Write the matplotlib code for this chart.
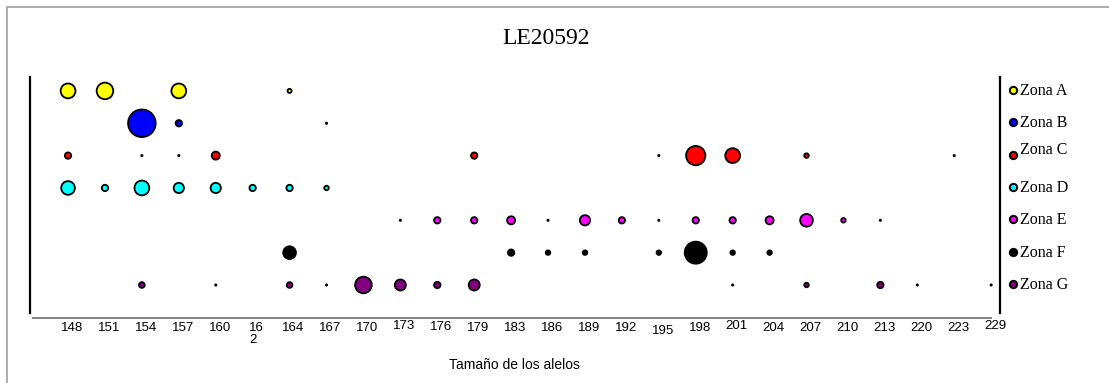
import matplotlib
matplotlib.use('Agg')
import matplotlib.pyplot as plt
import matplotlib.transforms as mtransforms
from matplotlib.patches import Rectangle
import numpy as np

# allele sizes (category labels on the x axis)
alelos = ['148', '151', '154', '157', '160', '162', '164', '167', '170', '173',
          '176', '179', '183', '186', '189', '192', '195', '198', '201', '204',
          '207', '210', '213', '220', '223', '229']

zonas = ['Zona A', 'Zona B', 'Zona C', 'Zona D', 'Zona E', 'Zona F', 'Zona G']
colores = ['#FFFF00', '#0000FF', '#FF0000', '#00FFFF', '#FF00FF', '#000000', '#800080']

# allele frequency (%) per zone, one value per allele, 0 = absent
zona_a = [27, 34, 0, 27, 0, 0, 2, 0, 0, 0, 0, 0, 0, 0, 0, 0, 0, 0, 0, 0, 0, 0, 0, 0, 0, 0]
zona_b = [0, 0, 94, 5, 0, 0, 0, 0.2, 0, 0, 0, 0, 0, 0, 0, 0, 0, 0, 0, 0, 0, 0, 0, 0, 0, 0]
zona_c = [5, 0, 0.2, 0.2, 8, 0, 0, 0, 0, 0, 0, 5, 0, 0, 0, 0, 0.2, 46, 27, 0, 2.5, 0, 0, 0, 0.2, 0]
zona_d = [23, 5, 27, 13, 13, 5, 5, 2.5, 0, 0, 0, 0, 0, 0, 0, 0, 0, 0, 0, 0, 0, 0, 0, 0, 0, 0]
zona_e = [0, 0, 0, 0, 0, 0, 0, 0, 0, 0.2, 5, 5, 8, 0.2, 13, 5, 0.2, 5, 5, 8, 20, 2.5, 0.2, 0, 0, 0]
zona_f = [0, 0, 0, 0, 0, 0, 20, 0, 0, 0, 0, 0, 5, 2.5, 2.5, 0, 2.5, 60, 2.5, 2.5, 0, 0, 0, 0, 0, 0]
zona_g = [0, 0, 4, 0, 0.2, 0, 4, 0.2, 34, 15, 5, 15, 0, 0, 0, 0, 0, 0, 0.2, 0, 2.5, 0, 5, 0.2, 0, 0.2]

frecuencias = [zona_a, zona_b, zona_c, zona_d, zona_e, zona_f, zona_g]

W, H = 1109, 383
fig = plt.figure(figsize=(W / 100, H / 100), dpi=100)
fig.patch.set_facecolor('white')

# light grey chart frame (only top and left edge fall inside the image)
fig.patches.append(Rectangle((7 / W, -0.2), 1.2, 1 - 7 / H + 0.2, transform=fig.transFigure,
                             fill=False, edgecolor='#A6A6A6', linewidth=1.3))

ax = fig.add_axes([30 / W, 1 - 318 / H, 970 / W, 241 / H])
ax.set_xlim(-1.03, 25.24)
ax.set_ylim(7.02, -0.43)
for s in ax.spines.values():
    s.set_visible(False)
ax.set_xticks([])
ax.set_yticks([])

x = np.arange(len(alelos))
for fila, (zona, col, frec) in enumerate(zip(zonas, colores, frecuencias)):
    frec = np.array(frec, dtype=float)
    m = frec > 0
    ax.scatter(x[m], np.full(m.sum(), fila), s=frec[m] * 4.2, c=col,
               edgecolors='black', linewidths=1.3, zorder=3)

# axis lines
ax.axvline(-1.03, ymin=0.02, ymax=1, color='black', lw=1.6, clip_on=False)
ax.axvline(25.24, ymin=0.02, ymax=1, color='black', lw=1.6, clip_on=False)
ax.axhline(7.02, xmin=0.003, xmax=0.991, color='#808080', lw=1.4, clip_on=False)

# category labels
narrow = ['Liberation Sans Narrow', 'Liberation Sans', 'DejaVu Sans']
desplaz = {'173': -2, '176': -1, '195': 3, '201': -2, '229': -2}
trans = mtransforms.blended_transform_factory(ax.transData, ax.transAxes)
for i, lab in enumerate(alelos):
    dy = desplaz.get(lab, 0)
    t = trans + mtransforms.ScaledTranslation(4 / 100, -dy / 100, fig.dpi_scale_trans)
    texto = '16\n2' if lab == '162' else lab
    ax.text(i, -0.015, texto, transform=t, ha='center', va='top', fontsize=9.5,
            family=narrow, multialignment='left', linespacing=1.05)

# legend to the right of the plot
serif = ['Liberation Serif', 'DejaVu Serif']
tleg = mtransforms.blended_transform_factory(fig.transFigure, ax.transData)
for fila, (zona, col) in enumerate(zip(zonas, colores)):
    ax.scatter([1013 / W], [fila - 0.03], s=28, c=col, edgecolors='black', linewidths=1.4,
               transform=tleg, clip_on=False, zorder=4)
    dyt = -0.18 if zona == 'Zona C' else 0.0
    ax.text(1020 / W, fila + dyt, zona, transform=tleg, ha='left', va='center',
            fontsize=11.5, family=serif)

fig.text(546 / W, 1 - 38 / H, 'LE20592', ha='center', va='center', fontsize=17, family=serif)
fig.text(514 / W, 1 - 365 / H, 'Tamaño de los alelos', ha='center', va='center',
         fontsize=10, family=narrow)

fig.savefig('out.png', dpi=100)
